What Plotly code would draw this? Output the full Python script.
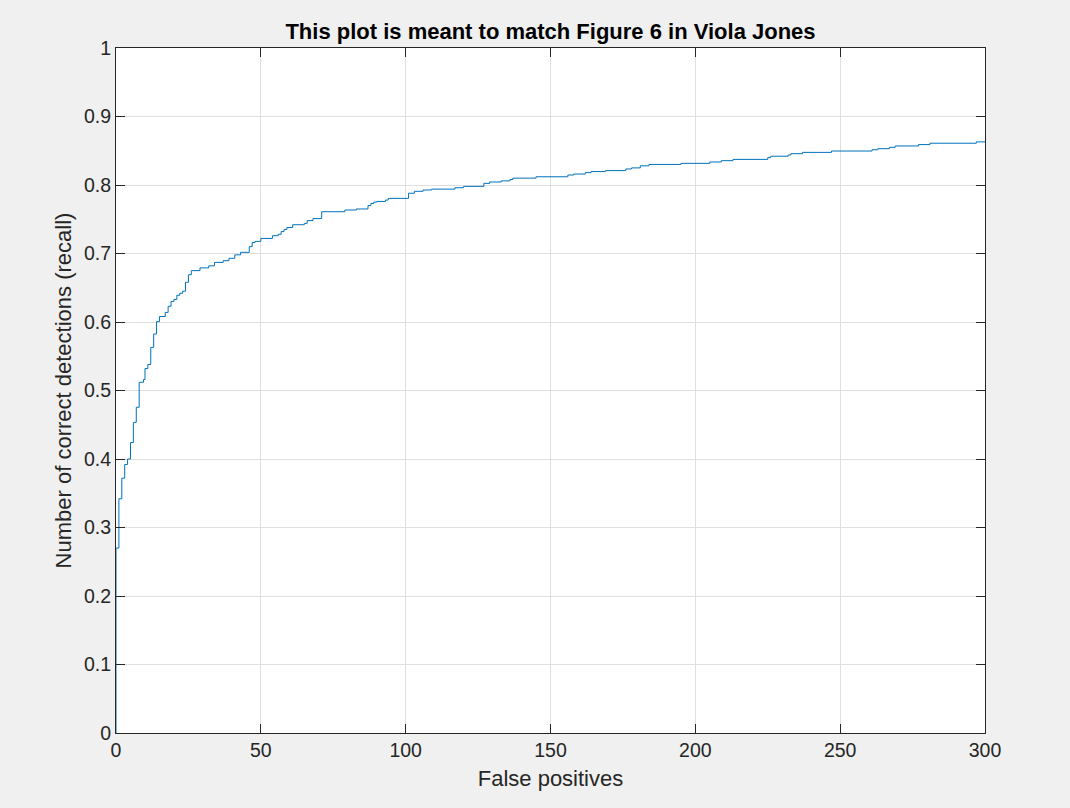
import plotly.graph_objects as go

false_positives = [0, 0, 1, 2, 3, 4, 5, 6, 7, 8, 9.5, 10, 11, 12, 13, 14, 15, 17, 18, 19, 20,
                   21, 22, 23, 24, 25, 26, 29, 32, 34, 37, 39, 41, 43, 46, 47, 48, 50, 54,
                   56, 57, 58, 59, 61, 65, 66, 68, 71, 79, 83, 87, 88, 89, 90, 93, 94, 101,
                   103, 106, 109, 117, 120, 127, 129, 133, 136, 137, 145, 156, 158, 162,
                   164, 169, 176, 178, 181, 184, 195, 205, 209, 213, 225, 226, 232, 233,
                   237, 247, 261, 263, 267, 269, 277, 281, 297, 300]
recall = [0.0, 0.27, 0.342, 0.372, 0.392, 0.400, 0.424, 0.4535, 0.4755, 0.512, 0.516, 0.532,
          0.538, 0.563, 0.5825, 0.6005, 0.608, 0.614, 0.623, 0.630, 0.633, 0.639, 0.642,
          0.645, 0.658, 0.669, 0.675, 0.679, 0.682, 0.687, 0.6895, 0.693, 0.698, 0.7017,
          0.710, 0.716, 0.7177, 0.722, 0.726, 0.728, 0.732, 0.735, 0.738, 0.742, 0.744,
          0.748, 0.751, 0.761, 0.7635, 0.765, 0.770, 0.773, 0.775, 0.776, 0.778, 0.7805,
          0.788, 0.7908, 0.7927, 0.794, 0.796, 0.798, 0.8024, 0.8044, 0.806, 0.808, 0.810,
          0.812, 0.8146, 0.816, 0.818, 0.8196, 0.821, 0.8234, 0.825, 0.828, 0.830, 0.8316,
          0.8336, 0.8355, 0.8374, 0.840, 0.842, 0.8438, 0.8457, 0.8476, 0.8496, 0.8515,
          0.853, 0.855, 0.857, 0.859, 0.861, 0.863, 0.863]

x_ticks = [0, 50, 100, 150, 200, 250, 300]
y_ticks = [0, 0.1, 0.2, 0.3, 0.4, 0.5, 0.6, 0.7, 0.8, 0.9, 1]
y_tick_text = ["0", "0.1", "0.2", "0.3", "0.4", "0.5", "0.6", "0.7", "0.8", "0.9", "1"]

FONT = "Liberation Sans, Arial, Helvetica, sans-serif"
AX = "#262626"

fig = go.Figure()
fig.add_trace(go.Scatter(
    x=false_positives, y=recall, mode="lines", line_shape="hv",
    line=dict(color="#0072BD", width=1), showlegend=False, hoverinfo="x+y"))

axis_common = dict(
    showline=True, linecolor=AX, linewidth=1, mirror="ticks",
    ticks="inside", ticklen=9, tickwidth=1, tickcolor=AX,
    showgrid=True, gridcolor="#dfdfdf", gridwidth=1, zeroline=False,
    tickfont=dict(family=FONT, size=19.5, color=AX),
)

fig.update_layout(
    width=1070, height=808,
    paper_bgcolor="#f0f0f0", plot_bgcolor="white",
    margin=dict(l=116, r=85, t=48, b=75),
    title=dict(text="<b>This plot is meant to match Figure 6 in Viola Jones</b>",
               x=550.5 / 1070, xanchor="center", y=1 - 31 / 808, yanchor="middle",
               font=dict(family=FONT, size=22, color="black")),
    xaxis=dict(range=[0, 300], tickvals=x_ticks,
               title=dict(text="False positives", standoff=10,
                          font=dict(family=FONT, size=22, color=AX)),
               **axis_common),
    yaxis=dict(range=[0, 1], tickvals=y_ticks, ticktext=y_tick_text,
               title=dict(text="Number of correct detections (recall)", standoff=6,
                          font=dict(family=FONT, size=22, color=AX)),
               **axis_common),
)

fig.write_html("out.html", config={"displayModeBar": False},
               post_script="document.body.style.margin='0';document.body.style.overflow='hidden';")
